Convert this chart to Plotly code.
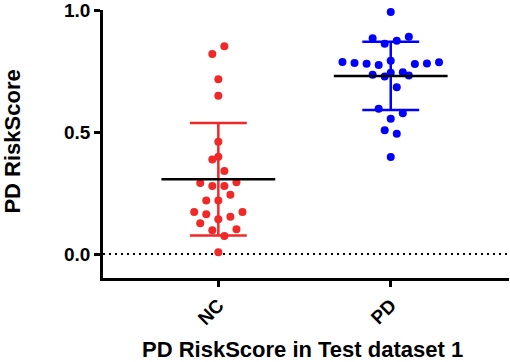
import numpy as np
import plotly.graph_objects as go

categories = ["NC", "PD"]

nc_values = [0.852, 0.820, 0.717, 0.649, 0.460, 0.399, 0.388, 0.341, 0.291, 0.279,
             0.279, 0.294, 0.243, 0.220, 0.220, 0.173, 0.163, 0.173, 0.153, 0.126,
             0.143, 0.098, 0.102, 0.074, 0.008]
pd_values = [0.992, 0.885, 0.891, 0.862, 0.874, 0.787, 0.783, 0.780, 0.775, 0.792,
             0.779, 0.781, 0.786, 0.735, 0.728, 0.743, 0.745, 0.732, 0.684, 0.596,
             0.577, 0.555, 0.508, 0.493, 0.398]

# scatter-dot column slots (half-dot steps) as laid out in the picture
nc_slots = [1, -1, 0, 0, 0, 0, -1, 1, -3, -1, 1, 3, 2, -2, 0, -4, -2, 4, 2, -3, 0, -1, 3, 1, 0]
pd_slots = [0, -3, 3, -1, 1, -8, -6, -4, -2, 0, 4, 6, 8, -3, -1, 0, 2, 3, 1, -2, 2, 0, -1, 1, 0]

y_ticks = [0.0, 0.5, 1.0]
y_ticktext = ["0.0", "0.5", "1.0"]

x_title = "PD RiskScore in Test dataset 1"
y_title = "PD RiskScore"

colors = ["rgb(240,40,40)", "rgb(0,0,255)"]
SLOT = 0.035
MEAN_HALF = 0.33
CAP_HALF = 0.165

fig = go.Figure()

for i, (name, vals, slots, col) in enumerate(zip(categories, [nc_values, pd_values],
                                                  [nc_slots, pd_slots], colors)):
    v = np.array(vals)
    xs = i + np.array(slots) * SLOT
    m = v.mean()
    sd = v.std(ddof=1)
    fig.add_trace(go.Scatter(x=[i, i], y=[m - sd, m + sd], mode="lines",
                             line=dict(color=col, width=2.5), showlegend=False,
                             hoverinfo="skip"))
    for yy in (m - sd, m + sd):
        fig.add_trace(go.Scatter(x=[i - CAP_HALF, i + CAP_HALF], y=[yy, yy], mode="lines",
                                 line=dict(color=col, width=2.5), showlegend=False,
                                 hoverinfo="skip"))
    fig.add_trace(go.Scatter(x=xs, y=v, mode="markers", name=name,
                             marker=dict(color=col, size=8, line=dict(width=0)),
                             showlegend=False, cliponaxis=False))
    fig.add_trace(go.Scatter(x=[i - MEAN_HALF, i + MEAN_HALF], y=[m, m], mode="lines",
                             line=dict(color="black", width=2.5), showlegend=False,
                             hoverinfo="skip"))

# dotted zero line
fig.add_shape(type="line", xref="paper", yref="y", x0=0, x1=1, y0=0, y1=0,
              line=dict(color="black", width=2, dash="2px,4px"), layer="below")

font_family = "Liberation Sans, Arial, sans-serif"

fig.add_annotation(text=f"<b>{x_title}</b>", xref="paper", yref="paper",
                   x=0.4926, y=-0.265, xanchor="center", yanchor="middle",
                   showarrow=False, font=dict(size=22, color="black"))
fig.add_annotation(text=f"<b>{y_title}</b>", xref="paper", yref="paper",
                   x=-0.2217, y=0.509, xanchor="center", yanchor="middle",
                   textangle=-90, showarrow=False, font=dict(size=22, color="black"))

fig.update_layout(
    width=510, height=362,
    margin=dict(l=103, r=1, t=10, b=84, autoexpand=False),
    plot_bgcolor="white", paper_bgcolor="white",
    font=dict(family=font_family, color="black"),
    xaxis=dict(
        range=[-0.669, 1.686], automargin=False,
        tickvals=[0, 1], ticktext=[f"<b>{c}</b>" for c in categories],
        tickangle=-45, tickfont=dict(size=19, color="black"),
        showline=True, linecolor="black", linewidth=2.5,
        ticks="outside", ticklen=6, tickwidth=2.5, tickcolor="black",
        showgrid=False, zeroline=False, ticklabeloverflow="allow",
    ),
    yaxis=dict(
        range=[-0.098, 1.0005], automargin=False,
        tickvals=y_ticks, ticktext=[f"<b>{t}</b>" for t in y_ticktext],
        tickfont=dict(size=19, color="black"),
        showline=True, linecolor="black", linewidth=2.5,
        ticks="outside", ticklen=6, tickwidth=2.5, tickcolor="black",
        showgrid=False, zeroline=False, ticklabeloverflow="allow",
    ),
)

fig.write_html("out.html", config={"displayModeBar": False},
               post_script="document.body.style.margin='0';document.body.style.overflow='hidden';")
